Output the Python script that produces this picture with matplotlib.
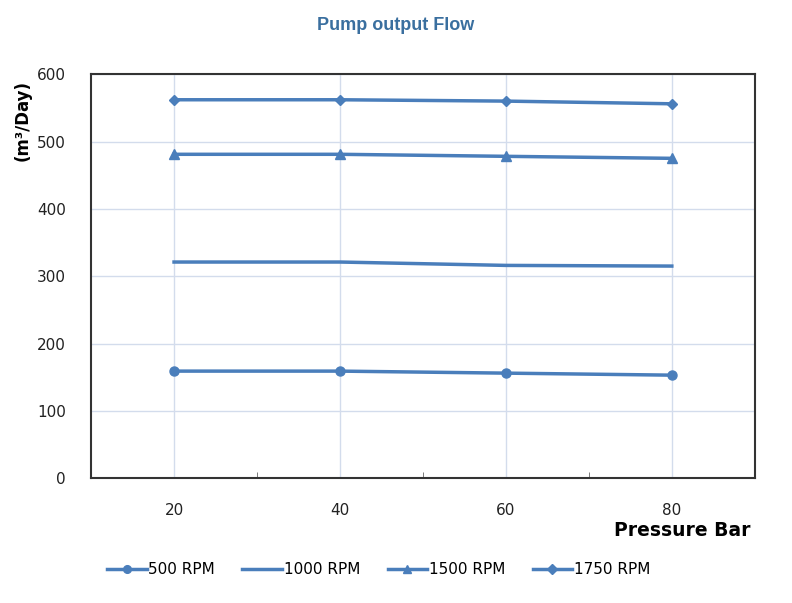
import matplotlib
matplotlib.use("Agg")
import matplotlib.pyplot as plt
from matplotlib.ticker import MultipleLocator

pressure = [20, 40, 60, 80]
rpm_500 = [159, 159, 156, 153]
rpm_1000 = [321, 321, 316, 315]
rpm_1500 = [481, 481, 478, 475]
rpm_1750 = [562, 562, 560, 556]
series_labels = ["500 RPM", "1000 RPM", "1500 RPM", "1750 RPM"]

color = "#4a7ebb"
grid_color = "#d3dcec"

fig = plt.figure(figsize=(7.92, 6.03), dpi=100)
ax = fig.add_axes([0.115, 0.207, 0.838, 0.670])

ax.plot(pressure, rpm_500, color=color, lw=2.5, marker="o", ms=6.5, label=series_labels[0])
ax.plot(pressure, rpm_1000, color=color, lw=2.5, label=series_labels[1])
ax.plot(pressure, rpm_1500, color=color, lw=2.5, marker="^", ms=7, label=series_labels[2])
ax.plot(pressure, rpm_1750, color=color, lw=2.5, marker="D", ms=5.5, label=series_labels[3])

ax.set_xlim(10, 90)
ax.set_ylim(0, 600)
ax.set_xticks(pressure)
ax.xaxis.set_minor_locator(MultipleLocator(10))
ax.yaxis.set_major_locator(MultipleLocator(100))
ax.grid(True, which="major", color=grid_color, lw=1)
ax.set_axisbelow(True)
ax.tick_params(axis="x", which="major", length=0, pad=18, labelsize=11, colors="#222222")
ax.tick_params(axis="x", which="minor", direction="in", length=4, color="#666666")
ax.tick_params(axis="y", length=0, pad=18, labelsize=11, colors="#222222")
for s in ax.spines.values():
    s.set_color("#333333")
    s.set_linewidth(1.5)

fig.text(0.5, 0.957, "Pump output Flow", ha="center", va="center",
         fontsize=13, fontweight="bold", color="#3a6f9f", family="Liberation Sans")
fig.text(0.028, 0.80, "(m³/Day)", rotation=90, ha="center", va="center",
         fontsize=12, fontweight="bold")
fig.text(0.948, 0.121, "Pressure Bar", ha="right", va="center",
         fontsize=13.5, fontweight="bold")

fig.legend(loc="center", bbox_to_anchor=(0.478, 0.055), ncol=4, frameon=False,
           fontsize=11, handlelength=2.6, handletextpad=0.1, columnspacing=1.8,
           markerscale=0.85)

fig.savefig("out.png", dpi=100)
